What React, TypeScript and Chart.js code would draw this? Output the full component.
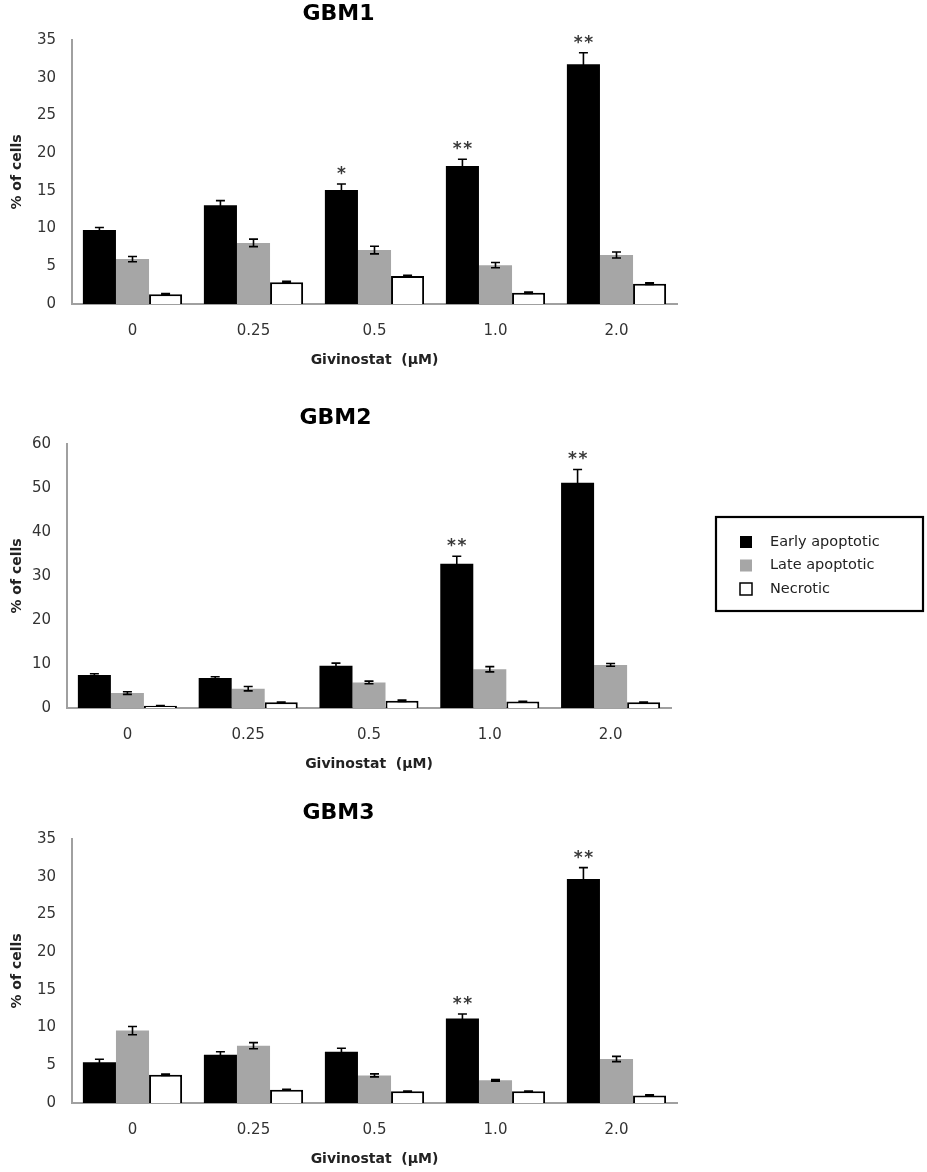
import { useEffect, useRef } from "react";
import { Chart, registerables } from "chart.js";

Chart.register(...registerables);
Chart.defaults.font.family = "'DejaVu Sans', sans-serif";
Chart.defaults.color = "#333";

const doses = ["0", "0.25", "0.5", "1.0", "2.0"];
const seriesNames = ["Early apoptotic", "Late apoptotic", "Necrotic"];

// GBM1
const gbm1Early = [9.8, 13.1, 15.1, 18.3, 31.8];
const gbm1EarlyErr = [0.35, 0.6, 0.8, 0.9, 1.5];
const gbm1Late = [5.95, 8.1, 7.15, 5.15, 6.5];
const gbm1LateErr = [0.35, 0.5, 0.5, 0.35, 0.4];
const gbm1Necrotic = [1.3, 2.9, 3.7, 1.5, 2.7];
const gbm1NecroticErr = [0.1, 0.1, 0.1, 0.1, 0.1];
const gbm1Stars = ["", "", "*", "**", "**"];

// GBM2
const gbm2Early = [7.5, 6.8, 9.6, 32.8, 51.2];
const gbm2EarlyErr = [0.3, 0.3, 0.6, 1.7, 3.0];
const gbm2Late = [3.4, 4.4, 5.8, 8.8, 9.8];
const gbm2LateErr = [0.3, 0.5, 0.3, 0.6, 0.3];
const gbm2Necrotic = [0.5, 1.3, 1.65, 1.5, 1.3];
const gbm2NecroticErr = [0.05, 0.05, 0.15, 0.05, 0.05];
const gbm2Stars = ["", "", "", "**", "**"];

// GBM3
const gbm3Early = [5.4, 6.4, 6.8, 11.2, 29.7];
const gbm3EarlyErr = [0.4, 0.4, 0.45, 0.6, 1.5];
const gbm3Late = [9.6, 7.6, 3.66, 3.0, 5.83];
const gbm3LateErr = [0.55, 0.4, 0.2, 0.1, 0.35];
const gbm3Necrotic = [3.75, 1.77, 1.55, 1.55, 1.0];
const gbm3NecroticErr = [0.1, 0.05, 0.05, 0.05, 0.1];
const gbm3Stars = ["", "", "", "**", "**"];

const gbm13Ticks = [0, 5, 10, 15, 20, 25, 30, 35];
const gbm2Ticks = [0, 10, 20, 30, 40, 50, 60];

const fills = ["#000000", "#a6a6a6", "#ffffff"];

const errorBars = {
  id: "errorBars",
  afterDatasetsDraw(chart: any) {
    const { ctx } = chart;
    const y = chart.scales.y;
    chart.data.datasets.forEach((ds: any, i: number) => {
      const meta = chart.getDatasetMeta(i);
      meta.data.forEach((bar: any, j: number) => {
        const v = ds.data[j];
        const e = ds.errors[j];
        const top = y.getPixelForValue(v + e);
        const bot = y.getPixelForValue(v - e);
        ctx.save();
        ctx.strokeStyle = "#000";
        ctx.lineWidth = 1.6;
        ctx.beginPath();
        ctx.moveTo(bar.x, top);
        ctx.lineTo(bar.x, bot);
        ctx.moveTo(bar.x - 4.5, top);
        ctx.lineTo(bar.x + 4.5, top);
        ctx.moveTo(bar.x - 4.5, bot);
        ctx.lineTo(bar.x + 4.5, bot);
        ctx.stroke();
        const star = ds.stars ? ds.stars[j] : "";
        if (star) {
          ctx.fillStyle = "#3a3a3a";
          ctx.font = "bold 17px 'DejaVu Sans', sans-serif";
          ctx.textAlign = "center";
          ctx.textBaseline = "bottom";
          const n = star.length;
          for (let k = 0; k < n; k++) {
            ctx.fillText("*", bar.x + (k - (n - 1) / 2) * 10.5, top - 1);
          }
        }
        ctx.restore();
      });
    });
  },
};

const boxLegend = {
  id: "boxLegend",
  afterDraw(chart: any, _args: any, opts: any) {
    if (!opts || !opts.show) return;
    const { ctx } = chart;
    ctx.save();
    ctx.strokeStyle = "#000";
    ctx.lineWidth = 2.2;
    ctx.strokeRect(opts.left, opts.top, opts.width, opts.height);
    ctx.font = "14.5px 'DejaVu Sans', sans-serif";
    ctx.textBaseline = "middle";
    ctx.textAlign = "left";
    chart.data.datasets.forEach((ds: any, i: number) => {
      const cy = opts.top + opts.firstRow + i * opts.rowGap;
      ctx.fillStyle = ds.backgroundColor;
      ctx.fillRect(opts.left + 24, cy - 6, 12, 12);
      if (ds.borderWidth) {
        ctx.strokeStyle = "#000";
        ctx.lineWidth = 1.5;
        ctx.strokeRect(opts.left + 24, cy - 6, 12, 12);
      }
      ctx.fillStyle = "#222";
      ctx.fillText(ds.label, opts.left + 54, cy);
    });
    ctx.restore();
  },
};

type PanelProps = {
  title: string;
  early: number[];
  earlyErr: number[];
  late: number[];
  lateErr: number[];
  necrotic: number[];
  necroticErr: number[];
  stars: string[];
  ticks: number[];
  top: number;
  yWidth: number;
  plotRight: number;
  width: number;
  legend?: boolean;
};

function Panel(p: PanelProps) {
  const canvasRef = useRef<HTMLCanvasElement | null>(null);

  useEffect(() => {
    const canvas = canvasRef.current;
    if (!canvas) return;
    const ctx = canvas.getContext("2d");
    if (!ctx) return;

    const values = [p.early, p.late, p.necrotic];
    const errs = [p.earlyErr, p.lateErr, p.necroticErr];

    const chart = new Chart(ctx, {
      type: "bar",
      data: {
        labels: doses,
        datasets: seriesNames.map((name, i) => ({
          label: name,
          data: values[i],
          errors: errs[i],
          stars: i === 0 ? p.stars : undefined,
          backgroundColor: fills[i],
          borderColor: "#000",
          borderWidth: i === 2 ? 2 : 0,
          categoryPercentage: 0.82,
          barPercentage: 1,
        })) as any,
      },
      options: {
        animation: false,
        responsive: true,
        maintainAspectRatio: false,
        layout: { padding: { left: 0, right: p.width - p.plotRight, top: 0, bottom: 0 } },
        plugins: {
          legend: { display: false },
          tooltip: { enabled: false },
          title: {
            display: true,
            text: p.title,
            font: { size: 22, weight: "bold" },
            color: "#000",
            padding: { top: 1, bottom: 12.6 },
          },
          boxLegend: {
            show: !!p.legend,
            left: 716,
            top: 113,
            width: 207,
            height: 94,
            firstRow: 25,
            rowGap: 23.5,
          },
        } as any,
        scales: {
          x: {
            grid: { display: false, drawTicks: false },
            border: { color: "#a0a0a0", width: 2 },
            ticks: { font: { size: 15 }, color: "#333", padding: 18 },
            title: {
              display: true,
              text: "Givinostat  (µM)",
              font: { size: 14, weight: "bold" },
              color: "#222",
              padding: { top: 0, bottom: 11 },
            },
            afterFit: (scale: any) => {
              scale.height = 76;
            },
          },
          y: {
            min: 0,
            max: p.ticks[p.ticks.length - 1],
            grid: { display: false, drawTicks: false },
            border: { color: "#a0a0a0", width: 2 },
            ticks: {
              stepSize: p.ticks[1] - p.ticks[0],
              font: { size: 15 },
              color: "#333",
              padding: 16,
            },
            title: {
              display: true,
              text: "% of cells",
              font: { size: 14, weight: "bold" },
              color: "#222",
              padding: { top: 9, bottom: 0 },
            },
            afterFit: (scale: any) => {
              scale.width = p.yWidth;
            },
          },
        },
      },
      plugins: [errorBars, boxLegend],
    });

    return () => {
      chart.destroy();
    };
  }, [p]);

  return (
    <div style={{ position: "absolute", left: 0, top: p.top, width: p.width, height: 380 }}>
      <canvas ref={canvasRef} />
    </div>
  );
}

const panel1: PanelProps = {
  title: "GBM1",
  early: gbm1Early,
  earlyErr: gbm1EarlyErr,
  late: gbm1Late,
  lateErr: gbm1LateErr,
  necrotic: gbm1Necrotic,
  necroticErr: gbm1NecroticErr,
  stars: gbm1Stars,
  ticks: gbm13Ticks,
  top: 0,
  yWidth: 72,
  plotRight: 677,
  width: 700,
};

const panel2: PanelProps = {
  title: "GBM2",
  early: gbm2Early,
  earlyErr: gbm2EarlyErr,
  late: gbm2Late,
  lateErr: gbm2LateErr,
  necrotic: gbm2Necrotic,
  necroticErr: gbm2NecroticErr,
  stars: gbm2Stars,
  ticks: gbm2Ticks,
  top: 404,
  yWidth: 67,
  plotRight: 671,
  width: 927,
  legend: true,
};

const panel3: PanelProps = {
  title: "GBM3",
  early: gbm3Early,
  earlyErr: gbm3EarlyErr,
  late: gbm3Late,
  lateErr: gbm3LateErr,
  necrotic: gbm3Necrotic,
  necroticErr: gbm3NecroticErr,
  stars: gbm3Stars,
  ticks: gbm13Ticks,
  top: 799,
  yWidth: 72,
  plotRight: 677,
  width: 700,
};

export default function App() {
  return (
    <div
      style={{
        position: "absolute",
        left: 0,
        top: 0,
        width: 927,
        height: 1172,
        background: "#fff",
      }}
    >
      <Panel {...panel1} />
      <Panel {...panel2} />
      <Panel {...panel3} />
    </div>
  );
}
